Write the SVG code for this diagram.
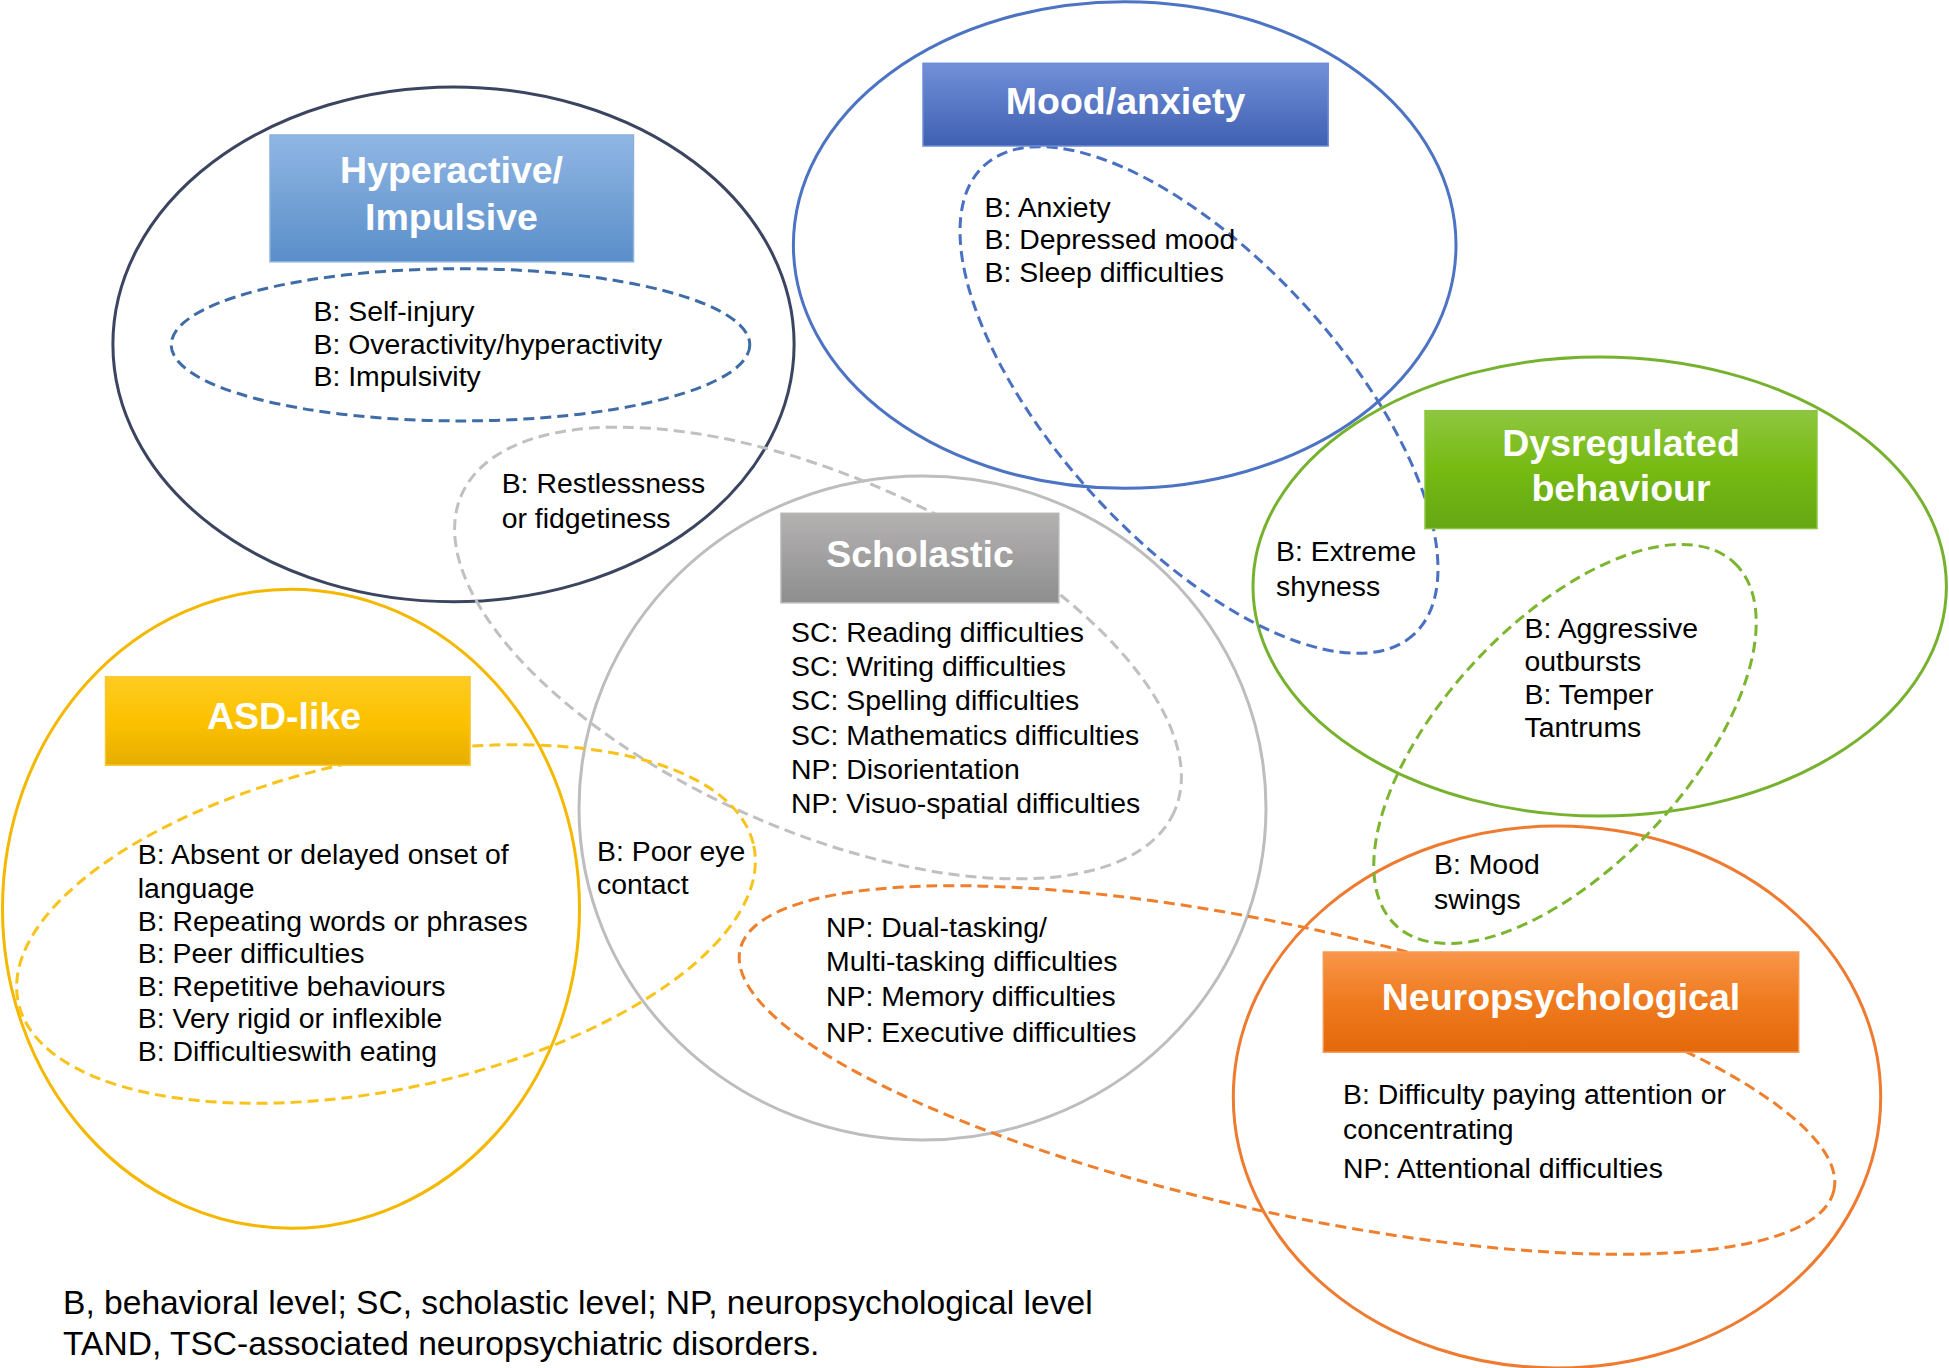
<svg xmlns="http://www.w3.org/2000/svg" width="1949" height="1368" viewBox="0 0 1949 1368">
<defs>
<linearGradient id="gBlue" x1="0" y1="0" x2="0" y2="1"><stop offset="0" stop-color="#90b7e4"/><stop offset="1" stop-color="#5a8ec9"/></linearGradient>
<linearGradient id="gNavy" x1="0" y1="0" x2="0" y2="1"><stop offset="0" stop-color="#7290d8"/><stop offset="1" stop-color="#3f5fb1"/></linearGradient>
<linearGradient id="gGreen" x1="0" y1="0" x2="0" y2="1"><stop offset="0" stop-color="#8ec740"/><stop offset="0.5" stop-color="#76ba12"/><stop offset="1" stop-color="#64a714"/></linearGradient>
<linearGradient id="gGray" x1="0" y1="0" x2="0" y2="1"><stop offset="0" stop-color="#b4b1b1"/><stop offset="1" stop-color="#8e8e8e"/></linearGradient>
<linearGradient id="gYellow" x1="0" y1="0" x2="0" y2="1"><stop offset="0" stop-color="#ffcb22"/><stop offset="0.5" stop-color="#fcc200"/><stop offset="1" stop-color="#e6ad00"/></linearGradient>
<linearGradient id="gOrange" x1="0" y1="0" x2="0" y2="1"><stop offset="0" stop-color="#f8964a"/><stop offset="0.5" stop-color="#ef7a1e"/><stop offset="1" stop-color="#e4690a"/></linearGradient>
</defs>
<style>
.solid{fill:none;stroke-width:3}
.dash{fill:none;stroke-width:3;stroke-dasharray:11 6}
.box{stroke-width:1.5}
.title{font-family:"Liberation Sans",Arial,sans-serif;font-weight:bold;font-size:37.5px;fill:#ffffff;text-anchor:middle}
.t{font-family:"Liberation Sans",Arial,sans-serif;font-size:28.4px;fill:#000000}
.foot{font-family:"Liberation Sans",Arial,sans-serif;font-size:33.6px;fill:#000000}
</style>
<rect width="1949" height="1368" fill="#ffffff"/>

<g id="connectors">
<ellipse class="solid" cx="453.5" cy="344.3" rx="340.6" ry="257.4" stroke="#3c4560"/>
<ellipse class="solid" cx="1124.7" cy="245" rx="331.3" ry="243.3" stroke="#4d73c3"/>
<ellipse class="solid" cx="1599.7" cy="586.5" rx="346.7" ry="229.5" stroke="#77b22e"/>
<ellipse class="solid" cx="922.5" cy="808" rx="343.5" ry="332" stroke="#bdbdbd"/>
<ellipse class="solid" cx="291" cy="908.7" rx="288.5" ry="319.5" stroke="#f5b800"/>
<ellipse class="solid" cx="1557" cy="1097" rx="323.7" ry="271" stroke="#ee7b30"/>

<ellipse class="dash" cx="460.5" cy="344.8" rx="289.3" ry="76.1" stroke="#3f6ca6"/>
<ellipse class="dash" cx="0" cy="0" rx="318" ry="142" stroke="#4a70c2" transform="translate(1199 400) rotate(47.5)"/>
<ellipse class="dash" cx="0" cy="0" rx="248" ry="122" stroke="#7cb52f" transform="translate(1565 744) rotate(-47)"/>
<ellipse class="dash" cx="0" cy="0" rx="390" ry="176" stroke="#c0c0c0" transform="translate(818 653) rotate(24)"/>
<ellipse class="dash" cx="0" cy="0" rx="376" ry="165" stroke="#f8c41c" transform="translate(386 924) rotate(-12)"/>
<ellipse class="dash" cx="0" cy="0" rx="560" ry="143" stroke="#ef7f2c" transform="translate(1287 1070) rotate(12.4)"/>
</g>

<g id="hyperactive">
<rect class="box" x="270" y="135" width="363.5" height="126.8" fill="url(#gBlue)" stroke="#8ab1de"/>
<text class="title" x="451.5" y="183.3">Hyperactive/</text>
<text class="title" x="451.5" y="229.8">Impulsive</text>
<text class="t" x="313.5" y="321">B: Self-injury</text>
<text class="t" x="313.5" y="354">B: Overactivity/hyperactivity</text>
<text class="t" x="313.5" y="386">B: Impulsivity</text>
</g>

<g id="restlessness">
<text class="t" x="501.7" y="493">B: Restlessness</text>
<text class="t" x="501.7" y="527.6">or fidgetiness</text>
</g>

<g id="mood">
<rect class="box" x="923" y="63.3" width="405.2" height="82.7" fill="url(#gNavy)" stroke="#6f8dd6"/>
<text class="title" x="1125.6" y="113.5">Mood/anxiety</text>
<text class="t" x="984.5" y="216.7">B: Anxiety</text>
<text class="t" x="984.5" y="249.3">B: Depressed mood</text>
<text class="t" x="984.5" y="281.7">B: Sleep difficulties</text>
</g>

<g id="shyness">
<text class="t" x="1276" y="561.4">B: Extreme</text>
<text class="t" x="1276" y="595.7">shyness</text>
</g>

<g id="dysregulated">
<rect class="box" x="1425" y="410.7" width="392" height="117.9" fill="url(#gGreen)" stroke="#8cc63f"/>
<text class="title" x="1621" y="456.4">Dysregulated</text>
<text class="title" x="1621" y="500.7">behaviour</text>
<text class="t" x="1524.5" y="637.5">B: Aggressive</text>
<text class="t" x="1524.5" y="671.4">outbursts</text>
<text class="t" x="1524.5" y="703.6">B: Temper</text>
<text class="t" x="1524.5" y="736.8">Tantrums</text>
</g>

<g id="scholastic">
<rect class="box" x="781" y="513.3" width="277.8" height="89.5" fill="url(#gGray)" stroke="#b8b6b6"/>
<text class="title" x="920" y="567">Scholastic</text>
<text class="t" x="791" y="641.7">SC: Reading difficulties</text>
<text class="t" x="791" y="676">SC: Writing difficulties</text>
<text class="t" x="791" y="710">SC: Spelling difficulties</text>
<text class="t" x="791" y="744.5">SC: Mathematics difficulties</text>
<text class="t" x="791" y="779">NP: Disorientation</text>
<text class="t" x="791" y="813">NP: Visuo-spatial difficulties</text>
</g>

<g id="eyecontact">
<text class="t" x="597" y="861">B: Poor eye</text>
<text class="t" x="597" y="893.6">contact</text>
</g>

<g id="asd">
<rect class="box" x="105.5" y="676.8" width="364.6" height="88.4" fill="url(#gYellow)" stroke="#f8c830"/>
<text class="title" x="284" y="729.4">ASD-like</text>
<text class="t" x="137.8" y="864">B: Absent or delayed onset of</text>
<text class="t" x="137.8" y="897.8">language</text>
<text class="t" x="137.8" y="930.6">B: Repeating words or phrases</text>
<text class="t" x="137.8" y="963">B: Peer difficulties</text>
<text class="t" x="137.8" y="995.8">B: Repetitive behaviours</text>
<text class="t" x="137.8" y="1028.2">B: Very rigid or inflexible</text>
<text class="t" x="137.8" y="1060.6">B: Difficultieswith eating</text>
</g>

<g id="multitasking">
<text class="t" x="826" y="937">NP: Dual-tasking/</text>
<text class="t" x="826" y="971">Multi-tasking difficulties</text>
<text class="t" x="826" y="1006">NP: Memory difficulties</text>
<text class="t" x="826" y="1041.6">NP: Executive difficulties</text>
</g>

<g id="moodswings">
<text class="t" x="1434" y="874.3">B: Mood</text>
<text class="t" x="1434" y="908.7">swings</text>
</g>

<g id="neuropsychological">
<rect class="box" x="1323.3" y="952" width="475.4" height="100.2" fill="url(#gOrange)" stroke="#f49a58"/>
<text class="title" x="1561" y="1010">Neuropsychological</text>
<text class="t" x="1343" y="1104.3">B: Difficulty paying attention or</text>
<text class="t" x="1343" y="1138.8">concentrating</text>
<text class="t" x="1343" y="1177.5">NP: Attentional difficulties</text>
</g>

<g id="footnote">
<text class="foot" x="63" y="1314">B, behavioral level; SC, scholastic level; NP, neuropsychological level</text>
<text class="foot" x="63" y="1355">TAND, TSC-associated neuropsychiatric disorders.</text>
</g>
</svg>
